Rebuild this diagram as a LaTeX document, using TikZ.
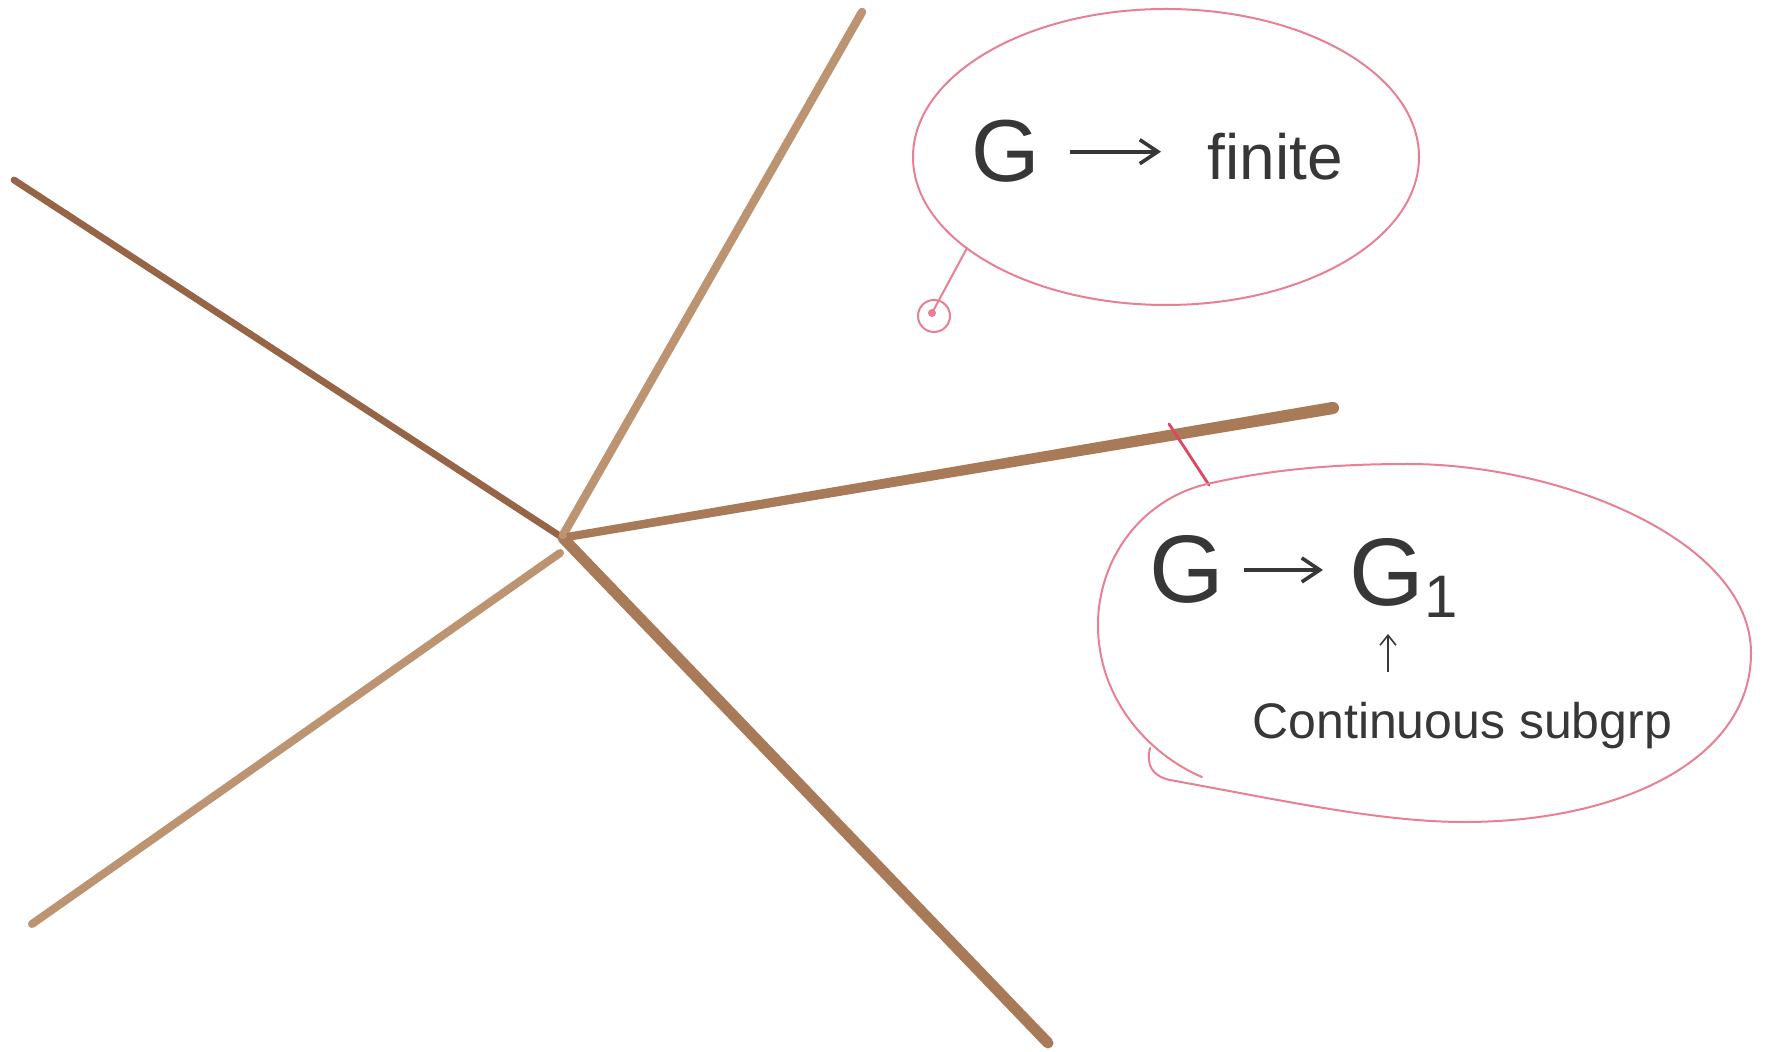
\documentclass[tikz,border=0pt]{standalone}
\usepackage{fontspec}
\setmainfont{Liberation Sans}
\usetikzlibrary{arrows.meta}
\definecolor{pencilD}{RGB}{150,100,70}
\definecolor{pencilM}{RGB}{168,122,88}
\definecolor{pencilL}{RGB}{188,148,114}
\definecolor{pinkpen}{RGB}{232,128,148}
\definecolor{redpen}{RGB}{222,70,98}
\definecolor{ink}{RGB}{55,55,55}
\tikzset{
  stick/.style={line cap=round},
  bubble/.style={draw=pinkpen, line width=1pt, line cap=round},
  word/.style={inner sep=0pt, text=ink, anchor=base west},
  inkarrow/.style={draw=ink, line width=2pt, -{Straight Barb[length=9pt,width=12pt,line width=1.8pt]}},
  uparrow/.style={draw=ink, line width=0.8pt, -{Straight Barb[length=5pt,width=8pt,line width=0.8pt]}}
}
\begin{document}
\begin{tikzpicture}[x=0.5pt,y=-0.5pt]
\useasboundingbox[fill=white] (0,0) rectangle (1766,1052);
% star of lines
\coordinate (c) at (563,538);
\coordinate (eTop) at (862,12);
\coordinate (eUL) at (14,180);
\coordinate (eLL) at (32,924);
\coordinate (eLR) at (1048,1043);
\coordinate (eR) at (1333,408);
\draw[stick, pencilD, line width=3.4pt] (eUL) -- (c);
\draw[stick, pencilM, line width=5.5pt] (c) -- (eLR);
\draw[stick, pencilL, line width=4.2pt] ([shift={(0,-3)}]c) -- (eTop);
% right line, tapered (thicker towards its free end)
\fill[pencilM] (567.7,541) -- (566.3,533) -- (1331.8,402) -- (1334.2,414) -- cycle;
\fill[pencilM] (eR) circle [radius=6];
\draw[stick, pencilL, line width=4pt] ([shift={(-3,15)}]c) -- (eLL);
% bubble 1
\draw[bubble] (1166,157) ellipse [x radius=253, y radius=148];
\coordinate (t1) at (967,248);
\coordinate (t2) at (932,313);
\draw[bubble] (t1) -- (t2);
\draw[bubble] (934,316) circle [radius=16];
\fill[pinkpen] (t2) circle [radius=4];
\node[word, font=\fontsize{44}{44}\selectfont] (g1) at (971,182) {G};
\node[word, font=\fontsize{32}{32}\selectfont] (fin) at (1207,180) {finite};
\draw[inkarrow, shorten <=15pt, shorten >=23pt] (g1.east) -- (g1.east -| fin.west);
% tick and bubble 2
\coordinate (k1) at (1169,424);
\coordinate (k2) at (1209,485);
\draw[redpen, line width=1.4pt, line cap=round] (k1) -- (k2);
\draw[bubble] (1150,748) .. controls (1146,765) and (1152,776) .. (1170,780)
  .. controls (1280,800) and (1380,822) .. (1464,822)
  .. controls (1620,822) and (1751,760) .. (1751,653)
  .. controls (1751,540) and (1560,464) .. (1408,464)
  .. controls (1320,464) and (1260,472) .. (1207,484)
  .. controls (1140,500) and (1098,560) .. (1098,625)
  .. controls (1098,700) and (1150,755) .. (1202,777);
\node[word, font=\fontsize{48}{48}\selectfont] (g2) at (1149,603) {G};
\node[word, font=\fontsize{48}{48}\selectfont] (g3) at (1349,606) {G\raisebox{-0.12em}{\fontsize{30}{30}\selectfont 1}};
\draw[inkarrow, shorten <=10pt, shorten >=13pt] (g2.east) -- (g2.east -| g3.west);
\node[word, font=\fontsize{25}{25}\selectfont] (cont) at (1252,738) {Continuous subgrp};
\coordinate (ua) at (1388,672);
\draw[uparrow, shorten >=8pt] (ua) -- (ua |- g3.south);
\end{tikzpicture}
\end{document}
